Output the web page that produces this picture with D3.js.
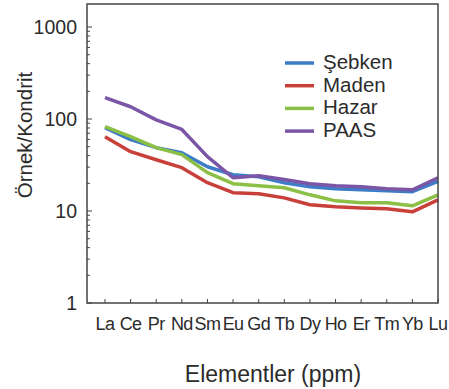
<!DOCTYPE html>
<html>
<head>
<meta charset="utf-8">
<script src="https://cdn.jsdelivr.net/npm/d3@7"></script>
<style>
  body { margin: 0; background: #fff; }
  text { font-family: "Liberation Sans", Arial, Helvetica, sans-serif; fill: #2b2b2b; }
</style>
</head>
<body>
<svg id="REE"></svg>
<script>
// REE elements (x axis)
var elements = ["La","Ce","Pr","Nd","Sm","Eu","Gd","Tb","Dy","Ho","Er","Tm","Yb","Lu"]

// chondrite normalised values
var sebken = [80.5, 59.7, 48.8, 43.0, 30.3, 24.8, 23.6, 20.3, 18.3, 17.5, 17.0, 16.6, 16.2, 21.0]
var maden  = [64.3, 44.2, 36.1, 29.6, 20.3, 15.8, 15.4, 13.9, 11.7, 11.1, 10.8, 10.6, 9.8, 13.2]
var hazar  = [82.6, 64.3, 48.8, 41.0, 26.1, 19.8, 18.8, 17.9, 15.0, 12.9, 12.3, 12.3, 11.4, 15.0]
var paas   = [171, 136, 98, 77, 39, 23.0, 24.2, 22.0, 19.8, 18.8, 18.3, 17.5, 17.0, 23.0]

var seriesNames = ["Şebken", "Maden", "Hazar", "PAAS"]
var seriesColors = ["#3d7cc6", "#c9403b", "#8cbf46", "#7b55a6"]
var yTickValues = [1, 10, 100, 1000]

var series = [sebken, maden, hazar, paas].map(function(vals, i){
    return {name: seriesNames[i], color: seriesColors[i], values: vals}
})

var dimensions = {
    width: 449,
    height: 389,
    margin: {
        top: 4,
        bottom: 86,
        right: 11,
        left: 87
    }
}

var svg = d3.select("#REE")
    .attr("width", dimensions.width)
    .attr("height", dimensions.height)

var left = dimensions.margin.left
var right = dimensions.width - dimensions.margin.right
var top_ = dimensions.margin.top
var bottom = dimensions.height - dimensions.margin.bottom

var xScale = d3.scalePoint()
    .domain(elements)
    .range([105, right])

var yScale = d3.scaleLog()
    .domain([1, 1780])
    .range([bottom, top_])

// minor ticks 2..9 in each decade
var minorTicks = []
for (var d = 1; d <= 1000; d *= 10) {
    for (var k = 2; k <= 9; k++) {
        if (d * k <= yScale.domain()[1]) minorTicks.push(d * k)
    }
}

var axisColor = "#444"

// y ticks (inside)
svg.append("g").selectAll("line.minor")
    .data(minorTicks)
    .join("line")
    .attr("x1", left).attr("x2", left + 3)
    .attr("y1", d => yScale(d)).attr("y2", d => yScale(d))
    .attr("stroke", axisColor).attr("stroke-width", 1)

svg.append("g").selectAll("line.major")
    .data(yTickValues)
    .join("line")
    .attr("x1", left).attr("x2", left + 5)
    .attr("y1", d => yScale(d)).attr("y2", d => yScale(d))
    .attr("stroke", axisColor).attr("stroke-width", 1)

svg.append("g").selectAll("text")
    .data(yTickValues)
    .join("text")
    .attr("x", left - 10)
    .attr("y", d => yScale(d))
    .attr("dy", "0.38em")
    .attr("text-anchor", "end")
    .style("font-size", "19.5px")
    .text(d => d)

// x ticks (inside, pointing up)
svg.append("g").selectAll("line")
    .data(elements)
    .join("line")
    .attr("x1", d => xScale(d)).attr("x2", d => xScale(d))
    .attr("y1", bottom).attr("y2", bottom - 4)
    .attr("stroke", axisColor).attr("stroke-width", 1)

svg.append("g").selectAll("text")
    .data(elements)
    .join("text")
    .attr("x", d => xScale(d))
    .attr("y", bottom + 27)
    .attr("text-anchor", "middle")
    .style("font-size", "18px")
    .style("letter-spacing", "-0.6px")
    .text(d => d)

// lines
var lineGen = d3.line()
    .x((d, i) => xScale(elements[i]))
    .y(d => yScale(d))

svg.append("g").selectAll("path")
    .data(series)
    .join("path")
    .attr("d", d => lineGen(d.values))
    .attr("fill", "none")
    .attr("stroke", d => d.color)
    .attr("stroke-width", 3.5)
    .attr("stroke-linejoin", "round")

// frame
svg.append("rect")
    .attr("x", left).attr("y", top_)
    .attr("width", right - left).attr("height", bottom - top_)
    .attr("fill", "none")
    .attr("stroke", axisColor)
    .attr("stroke-width", 1.5)

// legend
var legend = svg.append("g").selectAll("g")
    .data(series)
    .join("g")
    .attr("transform", (d, i) => "translate(285," + (63 + i * 22.7) + ")")

legend.append("line")
    .attr("x1", 0).attr("x2", 29)
    .attr("stroke", d => d.color)
    .attr("stroke-width", 3.5)

legend.append("text")
    .attr("x", 38)
    .attr("y", 6)
    .style("font-size", "20.5px")
    .text(d => d.name)

// axis titles
svg.append("text")
    .attr("transform", "translate(32,135) rotate(-90)")
    .attr("text-anchor", "middle")
    .style("font-size", "20.5px")
    .text("Örnek/Kondrit")

svg.append("text")
    .attr("x", 273)
    .attr("y", 382)
    .attr("text-anchor", "middle")
    .style("font-size", "23px")
    .text("Elementler (ppm)")
</script>
</body>
</html>
